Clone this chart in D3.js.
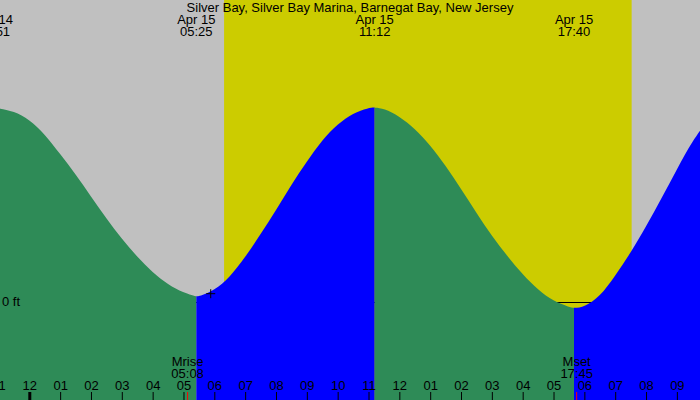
<!DOCTYPE html>
<html lang="en">
	<head>
		<meta charset="utf-8">
		<title>D3: tide chart</title>
		<script src="https://d3js.org/d3.v7.min.js"></script>
		<style type="text/css">
			body{margin: 0;}
			text{font-family: "Liberation Sans", Arial, sans-serif; font-size: 13px; fill: black;}
		</style>
	</head>
	<body>
		<script type="text/javascript">

			var stationName = "Silver Bay, Silver Bay Marina, Barnegat Bay, New Jersey";

			// tide curve (feet)
			var times = ["04-14 22:51","04-14 23:00","04-14 23:30","04-15 00:00","04-15 00:30","04-15 01:00",
				"04-15 01:30","04-15 02:00","04-15 02:30","04-15 03:00","04-15 03:30","04-15 04:00",
				"04-15 04:30","04-15 05:00","04-15 05:25","04-15 05:30","04-15 06:00","04-15 06:30",
				"04-15 07:00","04-15 07:30","04-15 08:00","04-15 08:30","04-15 09:00","04-15 09:30",
				"04-15 10:00","04-15 10:30","04-15 11:00","04-15 11:12","04-15 11:30","04-15 12:00",
				"04-15 12:30","04-15 13:00","04-15 13:30","04-15 14:00","04-15 14:30","04-15 15:00",
				"04-15 15:30","04-15 16:00","04-15 16:30","04-15 17:00","04-15 17:30","04-15 17:40",
				"04-15 18:00","04-15 18:30","04-15 19:00","04-15 19:30","04-15 20:00","04-15 20:30",
				"04-15 21:00","04-15 21:30","04-15 22:00"];
			var heights = [0.486,0.486,0.478,0.458,0.421,0.371,
				0.321,0.265,0.210,0.159,0.114,0.075,
				0.045,0.024,0.015,0.015,0.030,0.063,
				0.113,0.171,0.230,0.295,0.352,0.407,
				0.446,0.474,0.486,0.488,0.485,0.466,
				0.435,0.394,0.342,0.284,0.224,0.166,
				0.116,0.070,0.031,0.003,-0.011,-0.0145,
				-0.011,0.014,0.067,0.124,0.190,0.260,
				0.333,0.404,0.456];

			// high / low events
			var eventTimes = ["04-14 22:51","04-15 05:25","04-15 11:12","04-15 17:40"];
			var eventTypes = ["high","low","high","low"];

			// sun and moon
			var sunrise = "04-15 06:19";
			var sunset = "04-15 19:32";
			var moonLabels = ["Mrise","Mset"];
			var moonTimes = ["04-15 05:08","04-15 17:45"];

			// marker on the curve
			var markTime = "04-15 05:53";
			var markHeight = 0.022;

			var startTime = "04-14 23:03",
				endTime = "04-15 21:45";

			var width = 700, height = 400;
			var parse = d3.timeParse("%m-%d %H:%M");

			var data = times.map(function(t, i){
				return {date: parse(t), value: heights[i]};
			});

			var xscale = d3.scaleTime()
				.domain([parse(startTime), parse(endTime)])
				.range([0, width]);

			var yscale = d3.scaleLinear()
				.domain([-0.25, 0.75])
				.range([402.5, 2.5]);

			var svg = d3.select("body")
						.append("svg")
						.attr("width", width)
						.attr("height", height);

			// night and day sky
			svg.append("rect")
				.attr("x", 0).attr("y", 0)
				.attr("width", width).attr("height", height)
				.attr("fill", "#c0c0c0");

			svg.append("rect")
				.attr("x", xscale(parse(sunrise)))
				.attr("y", 0)
				.attr("width", xscale(parse(sunset)) - xscale(parse(sunrise)))
				.attr("height", height)
				.attr("fill", "#cccc00");

			// zero line, under the water
			svg.append("line")
				.attr("x1", 0).attr("x2", width)
				.attr("y1", yscale(0)).attr("y2", yscale(0))
				.attr("stroke", "black")
				.attr("stroke-width", 1);

			// water, green when falling, blue when rising
			var area = d3.area()
				.x(function(d){ return xscale(d.date); })
				.y0(height)
				.y1(function(d){ return yscale(d.value); })
				.curve(d3.curveBasis);

			var bounds = [parse(startTime)].concat(eventTimes.slice(1).map(parse)).concat([parse(endTime)]);
			var defs = svg.append("defs");

			for (var i = 0; i < bounds.length - 1; i++) {
				var falling = eventTypes[i] == "high";
				defs.append("clipPath")
					.attr("id", "seg" + i)
					.append("rect")
					.attr("x", xscale(bounds[i]))
					.attr("y", 0)
					.attr("width", xscale(bounds[i+1]) - xscale(bounds[i]))
					.attr("height", height);

				svg.append("path")
					.datum(data)
					.attr("clip-path", "url(#seg" + i + ")")
					.attr("fill", falling ? "#2e8b57" : "#0000ff")
					.attr("d", area);
			}

			// title
			svg.append("text")
				.attr("x", width / 2)
				.attr("y", 12)
				.style("text-anchor", "middle")
				.text(stationName);

			// event labels
			var fmtDay = d3.timeFormat("%b %d"),
				fmtTime = d3.timeFormat("%H:%M");

			var ev = svg.append("g")
				.selectAll("g")
				.data(eventTimes.map(parse))
				.enter().append("g");

			ev.append("text")
				.attr("x", function(d){ return xscale(d); })
				.attr("y", 24)
				.style("text-anchor", "middle")
				.text(function(d){ return fmtDay(d); });

			ev.append("text")
				.attr("x", function(d){ return xscale(d); })
				.attr("y", 36)
				.style("text-anchor", "middle")
				.text(function(d){ return fmtTime(d); });

			// zero label
			svg.append("text")
				.attr("x", 2)
				.attr("y", yscale(0) + 3)
				.text("0 ft");

			// hour axis
			var tickTimes = d3.timeHour.range(parse("04-14 23:00"), parse("04-15 21:30"));

			var axis = svg.append("g")
				.attr("transform", "translate(0," + height + ")")
				.call(d3.axisTop(xscale)
					.tickValues(tickTimes)
					.tickSize(8)
					.tickPadding(2.5)
					.tickFormat(d3.timeFormat("%I")));

			axis.select(".domain").remove();
			axis.selectAll("text")
				.style("font-family", "\"Liberation Sans\", Arial, sans-serif")
				.style("font-size", "13px");
			axis.selectAll(".tick line")
				.attr("stroke", "black")
				.attr("stroke-width", function(d){ return d.getHours() == 0 ? 3 : 1; });

			// moon rise / set
			var moon = svg.append("g")
				.selectAll("g")
				.data(moonTimes)
				.enter().append("g");

			moon.append("line")
				.attr("x1", function(d){ return xscale(parse(d)); })
				.attr("x2", function(d){ return xscale(parse(d)); })
				.attr("y1", height - 8)
				.attr("y2", height)
				.attr("stroke", "red")
				.attr("stroke-width", 1);

			moon.append("text")
				.attr("x", function(d){ return xscale(parse(d)); })
				.attr("y", 366)
				.style("text-anchor", "middle")
				.text(function(d, i){ return moonLabels[i]; });

			moon.append("text")
				.attr("x", function(d){ return xscale(parse(d)); })
				.attr("y", 377.5)
				.style("text-anchor", "middle")
				.text(function(d){ return d.slice(6); });

			// plus marker
			var mx = xscale(parse(markTime)), my = yscale(markHeight);
			svg.append("path")
				.attr("d", "M" + (mx - 4.5) + "," + my + "H" + (mx + 4.5) + "M" + mx + "," + (my - 4.5) + "V" + (my + 4.5))
				.attr("stroke", "black")
				.attr("stroke-width", 1);

		</script>
	</body>
</html>
